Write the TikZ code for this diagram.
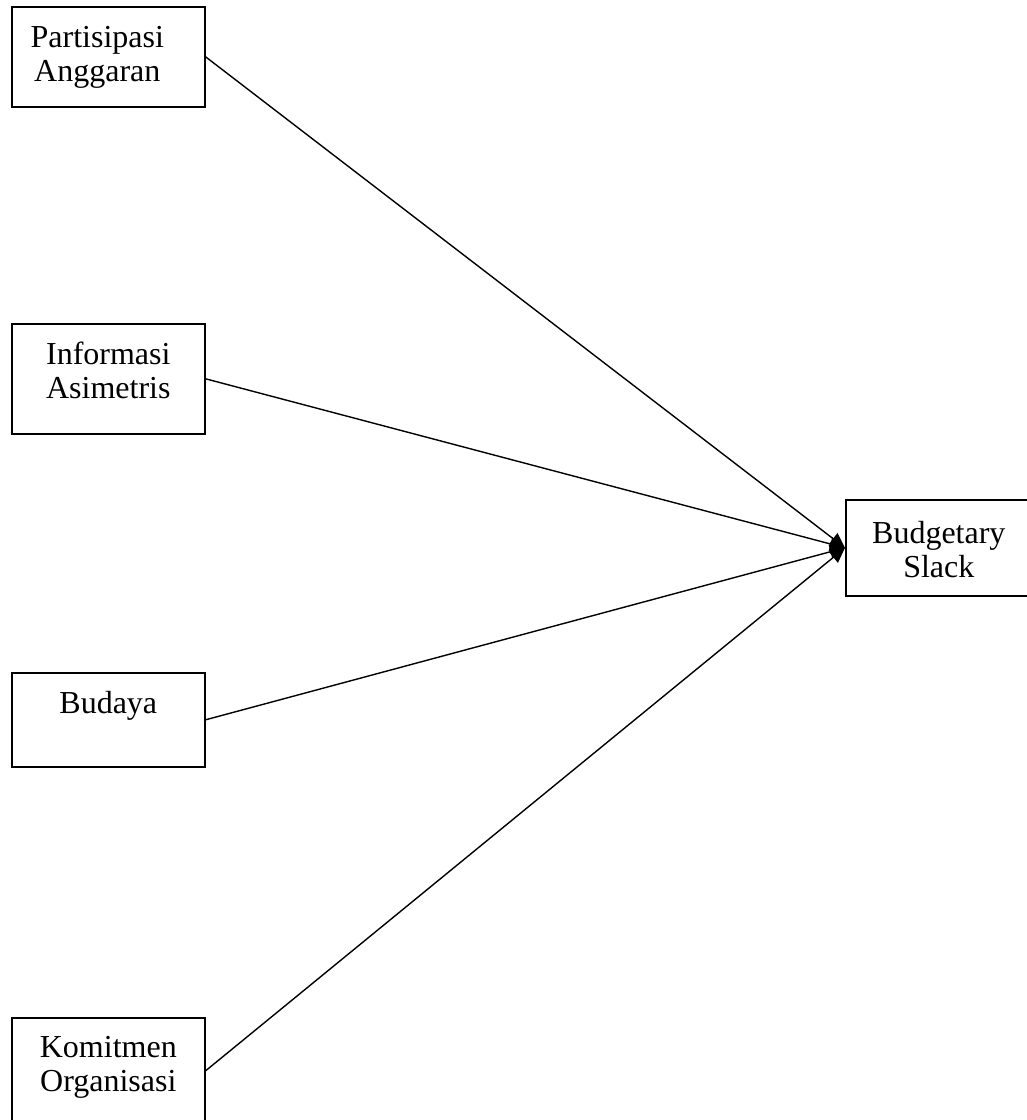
\documentclass[tikz,border=0pt]{standalone}
\usepackage{fontspec}
\setmainfont{Liberation Serif}
\usetikzlibrary{arrows.meta}
\begin{document}
\begin{tikzpicture}[x=1pt,y=-1pt,
  box/.style={draw, line width=1.6pt, inner sep=0pt, anchor=north west},
  lbl/.style={font=\fontsize{32}{34}\selectfont, align=center, inner sep=0pt, anchor=north},
  link/.style={line width=1.4pt, -{Triangle[length=15pt,width=14pt]}}]
\useasboundingbox (0,0) rectangle (1027,1120);
\clip (0,0) rectangle (1027,1120);
\node[box, minimum width=193pt, minimum height=100pt,
  label={[lbl, xshift=-11pt, yshift=-20pt]north:Partisipasi\\Anggaran}] (pa) at (11,6) {};
\node[box, minimum width=193pt, minimum height=110pt,
  label={[lbl, yshift=-19pt]north:Informasi\\Asimetris}] (ia) at (11,323) {};
\node[box, minimum width=193pt, minimum height=94pt,
  label={[lbl, yshift=-19pt]north:Budaya}] (bu) at (11,672) {};
\node[box, minimum width=193pt, minimum height=106pt,
  label={[lbl, yshift=-19pt]north:Komitmen\\Organisasi}] (ko) at (11,1017) {};
\node[box, minimum width=186pt, minimum height=96pt,
  label={[lbl, yshift=-22pt]north:Budgetary\\Slack}] (bs) at (845,499) {};
\draw[link] (pa.east) -- (bs.west);
\draw[link] (ia.east) -- (bs.west);
\draw[link] (bu.east) -- (bs.west);
\draw[link] (ko.east) -- (bs.west);
\end{tikzpicture}
\end{document}
